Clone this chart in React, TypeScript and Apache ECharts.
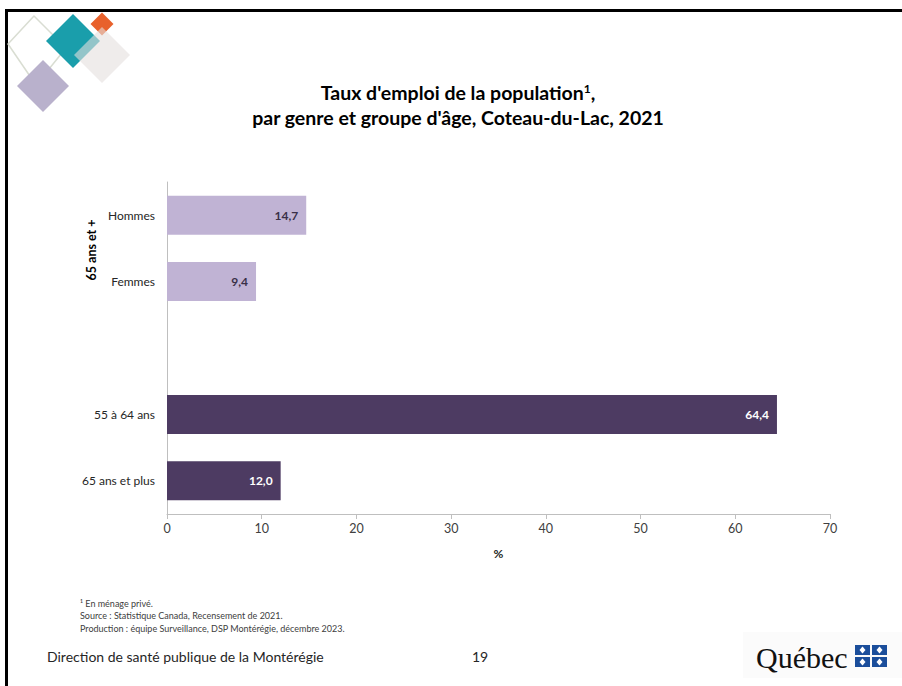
import React, { useEffect, useRef } from 'react';
import * as echarts from 'echarts';

// ---- Data ----
const groupLabel = '65 ans et +';
const groupCategories = ['Hommes', 'Femmes'];
const groupValues = [14.7, 9.4];
const ageCategories = ['55 à 64 ans', '65 ans et plus'];
const ageValues = [64.4, 12.0];
const xMin = 0;
const xMax = 70;
const xInterval = 10;

const titleLine1 = "Taux d'emploi de la population";
const titleLine2 = "par genre et groupe d'âge, Coteau-du-Lac, 2021";
const footnotes = [
  '¹ En ménage privé.',
  'Source : Statistique Canada, Recensement de 2021.',
  'Production : équipe Surveillance, DSP Montérégie, décembre 2023.',
];
const footerText = 'Direction de santé publique de la Montérégie';
const pageNumber = '19';

const LIGHT = '#C0B3D4';
const DARK = '#4D3B62';
const FONT = 'Lato, "Open Sans", sans-serif';

function fmt(v: number) {
  return v.toFixed(1).replace('.', ',');
}

export default function App() {
  const ref = useRef<HTMLDivElement>(null);

  useEffect(() => {
    if (!ref.current) return;
    const chart = echarts.init(ref.current, undefined, { renderer: 'svg' });

    const categories = [...groupCategories, '', ...ageCategories];
    const data: any[] = [
      ...groupValues.map((v) => ({
        value: v,
        itemStyle: { color: LIGHT },
        label: { color: '#3A3048' },
      })),
      '-',
      ...ageValues.map((v) => ({
        value: v,
        itemStyle: { color: DARK },
        label: { color: '#FFFFFF' },
      })),
    ];

    const diamond = (cx: number, cy: number, rx: number, ry: number) => [
      [cx, cy - ry],
      [cx + rx, cy],
      [cx, cy + ry],
      [cx - rx, cy],
    ];

    const flagX = 855;
    const flagY = 645;
    const fw = 15;
    const fh = 10;
    const flagRects: any[] = [];
    for (let r = 0; r < 2; r++) {
      for (let c = 0; c < 2; c++) {
        const x = flagX + c * (fw + 2);
        const y = flagY + r * (fh + 2);
        flagRects.push({
          type: 'rect',
          shape: { x, y, width: fw, height: fh },
          style: { fill: '#1B4E9B' },
        });
        flagRects.push({
          type: 'polygon',
          shape: { points: diamond(x + fw / 2, y + fh / 2, 3, 3.5) },
          style: { fill: '#FFFFFF' },
        });
      }
    }

    chart.setOption({
      animation: false,
      backgroundColor: '#FFFFFF',
      textStyle: { fontFamily: FONT },
      grid: { left: 167, right: 72, top: 182, bottom: 172, containLabel: false },
      xAxis: {
        type: 'value',
        min: xMin,
        max: xMax,
        interval: xInterval,
        name: '%',
        nameLocation: 'middle',
        nameGap: 33,
        nameTextStyle: { fontFamily: FONT, fontWeight: 'bold', fontSize: 12, color: '#262626' },
        axisLine: { show: true, lineStyle: { color: '#BFBFBF', width: 1 } },
        axisTick: { show: true, length: 5, lineStyle: { color: '#BFBFBF' } },
        axisLabel: { fontFamily: FONT, fontSize: 12.5, color: '#404040', margin: 8 },
        splitLine: { show: false },
      },
      yAxis: {
        type: 'category',
        inverse: true,
        data: categories,
        axisLine: { show: true, lineStyle: { color: '#BFBFBF', width: 1 } },
        axisTick: { show: false },
        axisLabel: { fontFamily: FONT, fontSize: 12, color: '#262626', margin: 12 },
        splitLine: { show: false },
      },
      series: [
        {
          type: 'bar',
          data,
          barWidth: 39,
          label: {
            show: true,
            position: 'insideRight',
            distance: 8,
            fontFamily: FONT,
            fontSize: 12,
            fontWeight: 'bold',
            formatter: (p: any) => fmt(Number(p.value)),
          },
        },
      ],
      graphic: [
        // page border
        { type: 'rect', shape: { x: 5, y: 9, width: 897, height: 3 }, style: { fill: '#000' } },
        { type: 'rect', shape: { x: 5, y: 9, width: 3, height: 677 }, style: { fill: '#000' } },
        // decorative logo
        {
          type: 'polygon',
          shape: { points: [[34, 16], [66, 48], [36, 85], [8, 44]] },
          style: { fill: 'none', stroke: '#D9DDD2', lineWidth: 1.5, lineJoin: 'round' },
        },
        {
          type: 'polygon',
          shape: { points: diamond(43, 86, 26, 26) },
          style: { fill: '#B9B1CC' },
        },
        {
          type: 'polygon',
          shape: { points: diamond(73, 41, 27, 27) },
          style: { fill: '#1A9EAB' },
        },
        {
          type: 'polygon',
          shape: { points: diamond(102, 24, 11.5, 11.5) },
          style: { fill: '#E8612C' },
        },
        {
          type: 'polygon',
          shape: { points: diamond(102, 55, 28, 28) },
          style: { fill: '#E4E0DE', opacity: 0.6 },
        },
        // title
        {
          type: 'text',
          x: 458,
          y: 92,
          style: {
            text: titleLine1 + '{sup|1},',
            textAlign: 'center',
            textVerticalAlign: 'middle',
            font: `bold 19.5px ${FONT}`,
            fill: '#000',
            rich: {
              sup: { fontSize: 12, fontWeight: 'bold', fontFamily: FONT, verticalAlign: 'top', padding: [0, 0, 8, 0], fill: '#000' },
            },
          },
        },
        {
          type: 'text',
          x: 458,
          y: 117,
          style: {
            text: titleLine2,
            textAlign: 'center',
            textVerticalAlign: 'middle',
            font: `bold 19.5px ${FONT}`,
            fill: '#000',
          },
        },
        // group label
        {
          type: 'text',
          x: 91,
          y: 250,
          rotation: Math.PI / 2,
          style: {
            text: groupLabel,
            textAlign: 'center',
            textVerticalAlign: 'middle',
            font: `bold 12.5px ${FONT}`,
            fill: '#000',
          },
        },
        // footnotes
        ...footnotes.map((t, i) => ({
          type: 'text',
          x: 80,
          y: 603 + i * 12.5,
          style: {
            text: t,
            textAlign: 'left',
            textVerticalAlign: 'middle',
            font: `9px ${FONT}`,
            fill: '#404040',
          },
        })),
        // footer
        {
          type: 'text',
          x: 47,
          y: 656,
          style: {
            text: footerText,
            textAlign: 'left',
            textVerticalAlign: 'middle',
            font: `14px ${FONT}`,
            fill: '#262626',
          },
        },
        {
          type: 'text',
          x: 480,
          y: 656,
          style: {
            text: pageNumber,
            textAlign: 'center',
            textVerticalAlign: 'middle',
            font: `14px ${FONT}`,
            fill: '#262626',
          },
        },
        // Québec logo
        { type: 'rect', shape: { x: 743, y: 632, width: 159, height: 46 }, style: { fill: '#FBFBFB' } },
        {
          type: 'text',
          x: 756,
          y: 657,
          style: {
            text: 'Québec',
            textAlign: 'left',
            textVerticalAlign: 'middle',
            font: `30px "Liberation Serif", "DejaVu Serif", serif`,
            fill: '#111',
          },
        },
        ...flagRects,
      ],
    });

    return () => chart.dispose();
  }, []);

  return (
    <div
      ref={ref}
      style={{ position: 'fixed', left: 0, top: 0, width: 902, height: 686 }}
    />
  );
}
